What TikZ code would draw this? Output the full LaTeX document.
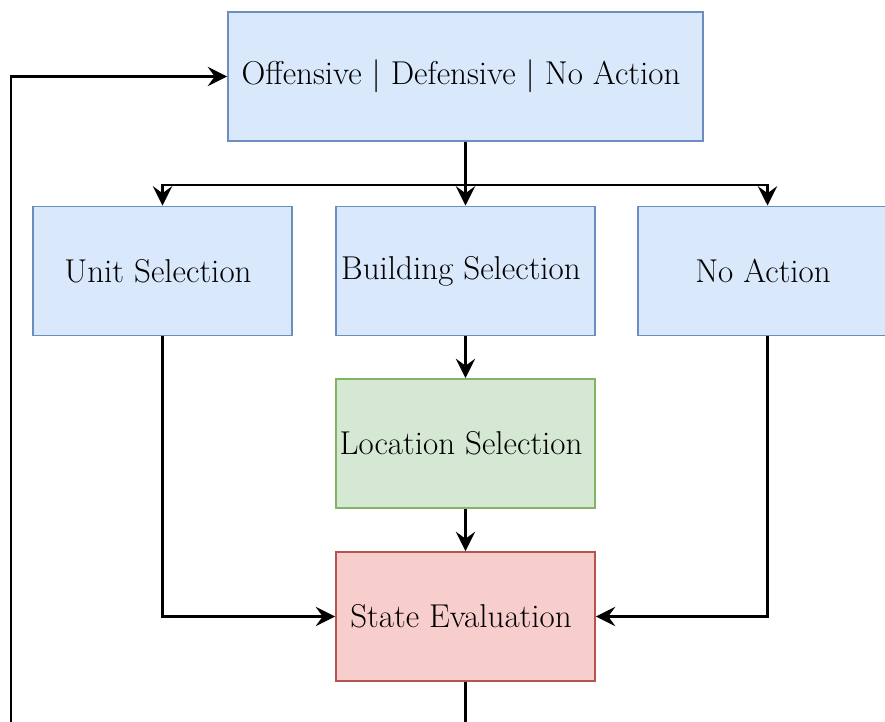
\documentclass[tikz,border=0pt]{standalone}
\usepackage{tikz}
\usetikzlibrary{arrows.meta}
\usetikzlibrary{shapes}
\usetikzlibrary{positioning}
\definecolor{bluefill}{HTML}{DAE8FC}
\definecolor{bluedraw}{HTML}{6C8EBF}
\definecolor{greenfill}{HTML}{D5E8D4}
\definecolor{greendraw}{HTML}{82B366}
\definecolor{redfill}{HTML}{F8CECC}
\definecolor{reddraw}{HTML}{B85450}
\tikzstyle{stage}=[rectangle,line width=1.1pt,inner sep=0mm,minimum width=5.18cm,minimum height=2.58cm,font=\fontsize{18.8}{22}\selectfont,execute at end node={\hspace*{0.18cm}}]
\tikzstyle{choice}=[stage,draw=bluedraw,fill=bluefill]
\tikzstyle{place}=[stage,draw=greendraw,fill=greenfill]
\tikzstyle{judge}=[stage,draw=reddraw,fill=redfill]
\tikzstyle{arrow}=[->,line width=1.4pt]

\begin{document}
\begin{tikzpicture}[>={Stealth[length=11pt,width=11pt,inset=4pt]}]
    \useasboundingbox (0,0) rectangle (17.7,14.44);
    \node[choice,minimum width=9.5cm] at (9.31,12.91) (act) {Offensive | Defensive | No Action};
    \node[choice] at (3.25,9.02) (unit) {Unit Selection};
    \node[choice] at (9.31,9.02) (bld) {Building Selection};
    \node[choice] at (15.35,9.02) (noact) {No Action};
    \node[place] at (9.31,5.57) (loc) {Location Selection};
    \node[judge] at (9.31,2.11) (state) {State Evaluation};
    \coordinate (split) at (9.31,10.74);
    \coordinate (tail) at (0.22,-0.5);
    \draw[arrow] (act) -- (bld);
    \draw[arrow] (split) -| (unit);
    \draw[arrow] (split) -| (noact);
    \draw[arrow] (bld) -- (loc);
    \draw[arrow] (loc) -- (state);
    \draw[arrow] (unit) |- (state);
    \draw[arrow] (noact) |- (state);
    \draw[arrow] (state) |- (tail) |- (act);
  \end{tikzpicture}
\end{document}
